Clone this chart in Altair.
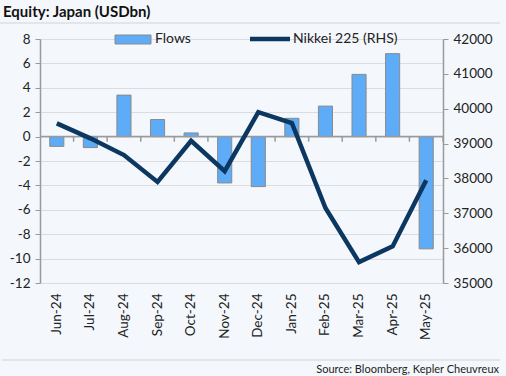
import altair as alt
import pandas as pd

months = ["Jun-24", "Jul-24", "Aug-24", "Sep-24", "Oct-24", "Nov-24",
          "Dec-24", "Jan-25", "Feb-25", "Mar-25", "Apr-25", "May-25"]
flows = [-0.8, -0.9, 3.4, 1.4, 0.3, -3.8, -4.1, 1.5, 2.5, 5.1, 6.8, -9.2]
nikkei = [39580, 39150, 38670, 37900, 39080, 38210, 39900, 39590, 37150, 35600, 36050, 37950]
left_ticks = [-12, -10, -8, -6, -4, -2, 0, 2, 4, 6, 8]
right_ticks = [35000, 36000, 37000, 38000, 39000, 40000, 41000, 42000]
legend_labels = ["Flows", "Nikkei 225 (RHS)"]
title_text = "Equity: Japan (USDbn)"
source_text = "Source: Bloomberg, Kepler Cheuvreux"

df = pd.DataFrame({"month": months, "flows": flows, "nikkei": nikkei})

FONT = "Lato"
BG = "#F4F8FC"
BAR = "#5EABF7"
LINE = "#0B3760"
GRID = "#DADDE0"
AXIS = "#9A9A9A"

W, H = 403, 244
PI = 0.58
STEP = W / len(months)
xscale = alt.Scale(domain=months, paddingInner=PI, paddingOuter=PI / 2)
xenc = alt.X("month:N", scale=xscale, sort=months,
             axis=alt.Axis(title=None, labelAngle=-90, domain=False, ticks=False,
                           labelPadding=10, labelFontSize=13.5, labelFont=FONT,
                           labelColor="#222222", labelBaseline="middle",
                           labelOverlap=False))

left_scale = alt.Scale(domain=[-12, 8], nice=False, zero=False)
left_axis = alt.Axis(title=None, values=left_ticks, grid=True, gridColor=GRID,
                     gridWidth=1, domainColor=AXIS, domainWidth=1.5,
                     tickColor=AXIS, tickSize=5, labelFontSize=13.5,
                     labelFont=FONT, labelColor="#222222", labelPadding=5,
                     labelOverlap=False, labelExpr="'' + datum.value")
yleft = alt.Y("flows:Q", scale=left_scale, axis=left_axis)

base = alt.Chart(df)

bars = base.mark_bar(color=BAR, stroke="#8A8A8A", strokeWidth=1).encode(
    x=xenc, y=yleft, y2=alt.datum(0))

zero = base.transform_filter("datum.month == 'Jun-24'").mark_rule(
    color=AXIS, strokeWidth=1.5).encode(
    x=alt.value(0), x2=alt.value(W),
    y=alt.YDatum(0, scale=left_scale, axis=left_axis))

tick_marks = base.mark_rule(color=AXIS, strokeWidth=1.5, xOffset=STEP * PI / 2).encode(
    x=alt.X("month:N", sort=months, bandPosition=1),
    y=alt.YDatum(0, scale=left_scale, axis=left_axis), y2=alt.datum(-0.42))

line = base.mark_line(color=LINE, strokeWidth=4.5, strokeJoin="miter").encode(
    x=alt.X("month:N", sort=months),
    y=alt.Y("nikkei:Q", scale=alt.Scale(domain=[35000, 42000], nice=False, zero=False),
            axis=alt.Axis(title=None, orient="right", values=right_ticks, grid=False,
                          domainColor=AXIS, domainWidth=1.5, tickColor=AXIS,
                          tickSize=5, labelFontSize=13.5, labelFont=FONT,
                          labelColor="#222222", labelPadding=5,
                          labelOverlap=False, labelExpr="'' + datum.value")))

leg_bar_df = pd.DataFrame({"label": [legend_labels[0]]})
leg_line_df = pd.DataFrame({"label": [legend_labels[1]]})

leg_rect = alt.Chart(leg_bar_df).mark_rect(color=BAR, stroke="#8A8A8A", strokeWidth=1).encode(
    x=alt.value(75), x2=alt.value(111), y=alt.value(-4), y2=alt.value(5))
leg_rect_text = alt.Chart(leg_bar_df).mark_text(
    align="left", baseline="middle", font=FONT, fontSize=14, color="#222222").encode(
    x=alt.value(115), y=alt.value(0), text="label:N")
leg_line = alt.Chart(leg_line_df).mark_rule(color=LINE, strokeWidth=4.5).encode(
    x=alt.value(210), x2=alt.value(250), y=alt.value(0))
leg_line_text = alt.Chart(leg_line_df).mark_text(
    align="left", baseline="middle", font=FONT, fontSize=14, color="#222222").encode(
    x=alt.value(253), y=alt.value(0), text="label:N")

title_df = pd.DataFrame({"t": [title_text]})
title = alt.Chart(title_df).mark_text(
    align="left", baseline="middle", font=FONT, fontSize=15, fontWeight="bold",
    color="#111111").encode(x=alt.value(-37), y=alt.value(-27), text="t:N")
top_sep = alt.Chart(title_df).mark_rule(color="#D0D3D6", strokeWidth=1).encode(
    x=alt.value(-40), x2=alt.value(460), y=alt.value(-16))

src_df = pd.DataFrame({"s": [source_text]})
source = alt.Chart(src_df).mark_text(
    align="right", baseline="middle", font=FONT, fontSize=11, color="#222222").encode(
    x=alt.value(459), y=alt.value(331), text="s:N")
bot_sep = alt.Chart(src_df).mark_rule(color="#D0D3D6", strokeWidth=1).encode(
    x=alt.value(-38), x2=alt.value(460), y=alt.value(321))

left_layer = alt.layer(bars, zero, tick_marks)
chart = alt.layer(
    left_layer, line, leg_rect, leg_rect_text, leg_line, leg_line_text,
    title, top_sep, source, bot_sep
).resolve_scale(y="independent").properties(
    width=W, height=H,
    autosize=alt.AutoSizeParams(type="none"),
    padding={"left": 40, "top": 39, "right": 63, "bottom": 93},
    background=BG,
).configure_view(stroke=None)

chart.save("out.html", embed_options={"renderer": "svg", "actions": False})
